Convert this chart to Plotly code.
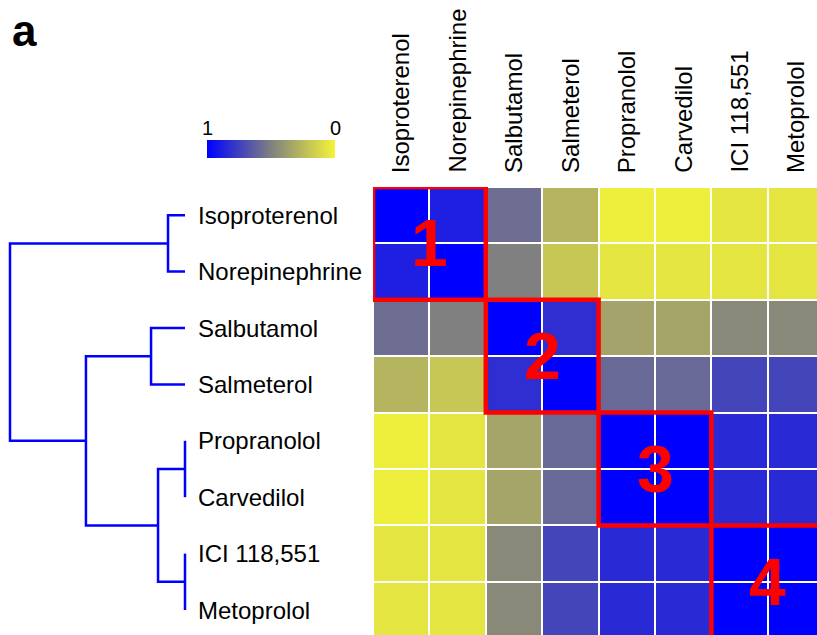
import numpy as np
import plotly.graph_objects as go

# Drugs, in dendrogram (row / column) order
drugs = ["Isoproterenol", "Norepinephrine", "Salbutamol", "Salmeterol",
         "Propranolol", "Carvedilol", "ICI 118,551", "Metoprolol"]

# Pairwise similarity (1 = identical, 0 = unrelated)
similarity = [
    [1.00, 0.88, 0.57, 0.27, 0.02, 0.02, 0.06, 0.06],
    [0.88, 1.00, 0.50, 0.19, 0.06, 0.06, 0.06, 0.06],
    [0.57, 0.50, 1.00, 0.82, 0.35, 0.34, 0.46, 0.46],
    [0.27, 0.19, 0.82, 1.00, 0.59, 0.59, 0.73, 0.73],
    [0.02, 0.06, 0.34, 0.59, 1.00, 1.00, 0.84, 0.84],
    [0.02, 0.06, 0.34, 0.59, 1.00, 1.00, 0.84, 0.84],
    [0.06, 0.06, 0.46, 0.73, 0.84, 0.84, 1.00, 1.00],
    [0.06, 0.06, 0.46, 0.73, 0.84, 0.84, 1.00, 1.00],
]

# Hierarchical clustering merges: (left node, right node, height)
# nodes 0..7 are leaves, 8.. are the clusters created in order
merges = [
    (0, 1, 0.097),   # 8
    (2, 3, 0.194),   # 9
    (4, 5, 0.0),     # 10
    (6, 7, 0.0),     # 11
    (10, 11, 0.154), # 12
    (9, 12, 0.566),  # 13
    (8, 13, 1.0),    # 14
]

# Highlighted clusters: (first index, last index, label)
blocks = [(0, 1, "1"), (2, 3, "2"), (4, 5, "3"), (6, 7, "4")]

# Colour legend end labels
legend_labels = ["1", "0"]

W, H = 817, 635
FONT = "Liberation Sans, Arial, sans-serif"
colorscale = [[0.0, "rgb(243,243,58)"], [0.5, "rgb(128,128,128)"], [1.0, "rgb(0,0,255)"]]

# pixel geometry of the layout
hm_left, hm_top, cell = 373, 187, 56.4
n = len(drugs)
x_hi = -0.5 + (W - hm_left) / cell
y_hi = -0.5 + (H - hm_top) / cell
leaf_px, root_px = 185, 10
unit = leaf_px - root_px  # pixels per unit of merge height

fig = go.Figure()

fig.add_trace(go.Heatmap(
    z=similarity, x=list(range(n)), y=list(range(n)),
    zmin=0, zmax=1, colorscale=colorscale, showscale=False,
    xgap=2, ygap=2, hoverinfo="skip",
))

# dendrogram drawn as U-shaped links
pos = {i: float(i) for i in range(n)}
hgt = {i: 0.0 for i in range(n)}
dx, dy = [], []
for k, (a, b, h) in enumerate(merges):
    node = n + k
    dx += [hgt[a], h, h, hgt[b], None]
    dy += [pos[a], pos[a], pos[b], pos[b], None]
    pos[node] = (pos[a] + pos[b]) / 2
    hgt[node] = h
fig.add_trace(go.Scatter(x=dx, y=dy, xaxis="x2", yaxis="y", mode="lines",
                         line=dict(color="#0000FF", width=2.5), hoverinfo="skip",
                         showlegend=False))

# colour legend strip
grad = np.linspace(1, 0, 200)
fig.add_trace(go.Heatmap(z=[grad], xaxis="x3", yaxis="y3", zmin=0, zmax=1,
                         colorscale=colorscale, showscale=False, hoverinfo="skip"))

shapes, ann = [], []
for i0, i1, lab in blocks:
    shapes.append(dict(type="rect", xref="x", yref="y", x0=i0 - 0.5, x1=i1 + 0.5,
                       y0=i0 - 0.5, y1=i1 + 0.5, line=dict(color="#FF0000", width=4.5)))
    ann.append(dict(xref="x", yref="y", x=(i0 + i1) / 2, y=(i0 + i1) / 2, text=f"<b>{lab}</b>",
                    showarrow=False, font=dict(family=FONT, size=66, color="#FF0000")))

for i, d in enumerate(drugs):
    ann.append(dict(xref="paper", yref="y", x=196 / W, y=i, text=d, xanchor="left",
                    yanchor="middle", showarrow=False,
                    font=dict(family=FONT, size=24, color="black")))
    ann.append(dict(xref="x", yref="paper", x=i, y=1 - 175 / H, text=d, textangle=-90,
                    xanchor="center", yanchor="bottom", showarrow=False,
                    font=dict(family=FONT, size=24, color="black")))

cb_x0, cb_x1, cb_y0, cb_y1 = 207, 335, 140, 158
for lab, px in zip(legend_labels, [cb_x0, cb_x1]):
    ann.append(dict(xref="paper", yref="paper", x=px / W, y=1 - 128 / H, text=lab,
                    xanchor="center", yanchor="middle", showarrow=False,
                    font=dict(family=FONT, size=20, color="black")))

ann.append(dict(xref="paper", yref="paper", x=10 / W, y=1 - 4 / H, text="<b>a</b>",
                xanchor="left", yanchor="top", showarrow=False,
                font=dict(family=FONT, size=44, color="black")))

hidden = dict(visible=False, showgrid=False, zeroline=False)
fig.update_layout(
    width=W, height=H, margin=dict(l=0, r=0, t=0, b=0),
    paper_bgcolor="white", plot_bgcolor="white",
    xaxis=dict(domain=[hm_left / W, 1], range=[-0.5, x_hi], **hidden),
    yaxis=dict(domain=[0, 1 - hm_top / H], range=[y_hi, -0.5], **hidden),
    xaxis2=dict(domain=[0, hm_left / W], anchor="y",
                range=[leaf_px / unit, (leaf_px - hm_left) / unit], **hidden),
    xaxis3=dict(domain=[cb_x0 / W, cb_x1 / W], anchor="y3", **hidden),
    yaxis3=dict(domain=[1 - cb_y1 / H, 1 - cb_y0 / H], anchor="x3", **hidden),
    shapes=shapes, annotations=ann, showlegend=False,
)

fig.write_html("out.html")
